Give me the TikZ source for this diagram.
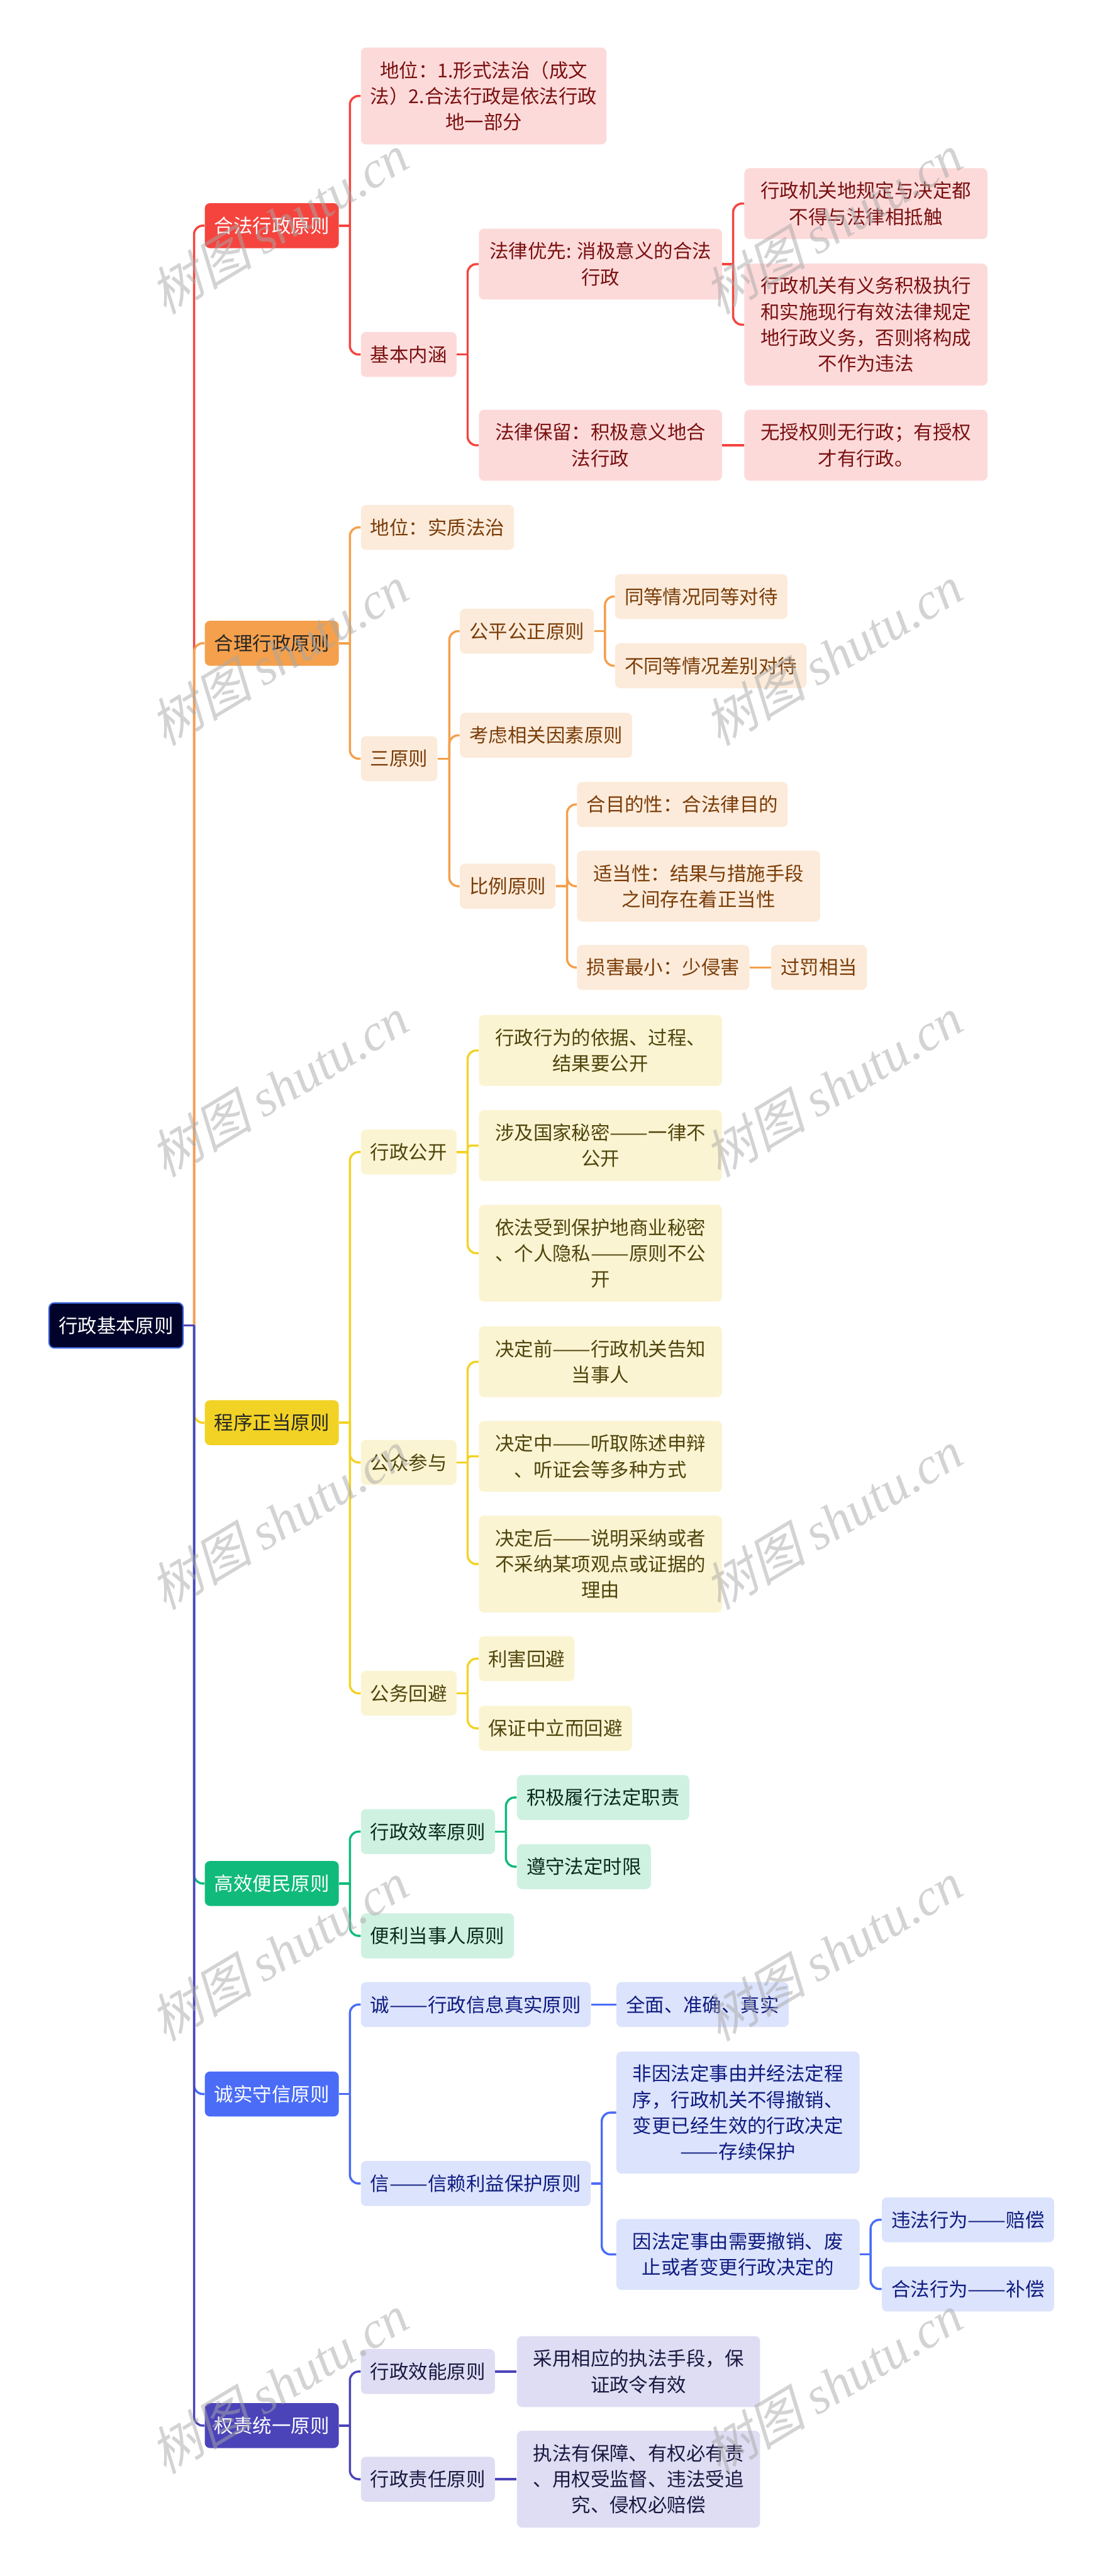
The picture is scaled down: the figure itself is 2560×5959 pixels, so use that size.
\documentclass[tikz,border=0pt]{standalone}
\usepackage{graphicx}
\usepackage{fontspec}
\setmainfont{Noto Sans CJK SC}
\newfontfamily\wmcjk[FakeSlant=0.25]{Noto Sans CJK SC}
\newfontfamily\wmlatin{Liberation Serif}
\newcommand{\ddash}{\resizebox{2em}{\height}{——}}

\definecolor{rootfill}{HTML}{02032A}
\definecolor{rootline}{HTML}{3A62D8}
\definecolor{redmain}{HTML}{F5443E}
\definecolor{redsoft}{HTML}{FDDADA}
\definecolor{redtext}{HTML}{7A1010}
\definecolor{orgmain}{HTML}{F4A04C}
\definecolor{orgsoft}{HTML}{FCEBDA}
\definecolor{orgtext}{HTML}{7A3C08}
\definecolor{yelmain}{HTML}{F2D325}
\definecolor{yelsoft}{HTML}{FBF4D2}
\definecolor{yeltext}{HTML}{4F440C}
\definecolor{grnmain}{HTML}{10BA7B}
\definecolor{grnsoft}{HTML}{CFF1E2}
\definecolor{grntext}{HTML}{0B2B1E}
\definecolor{blumain}{HTML}{4A6CF7}
\definecolor{blusoft}{HTML}{DCE3FC}
\definecolor{blutext}{HTML}{0E1B80}
\definecolor{purmain}{HTML}{4B44B9}
\definecolor{pursoft}{HTML}{DEDDF3}
\definecolor{purtext}{HTML}{1A1840}
\definecolor{wmgray}{HTML}{A8A8A8}

\begin{document}
\begin{tikzpicture}[x=0.01cm, y=-0.01cm,
  box/.style={rounded corners=0.12cm, inner xsep=0.22cm, inner ysep=0pt,
    minimum height=1.04cm, anchor=west, align=center,
    font=\fontsize{12.6pt}{17.1pt}\selectfont},
  wide/.style={minimum width=5.62cm},
  lines2/.style={minimum height=1.64cm},
  lines3/.style={minimum height=2.24cm},
  lines4/.style={minimum height=2.82cm},
  link/.style={line width=0.05cm, rounded corners=0.2cm},
  rootbox/.style={box, fill=rootfill, draw=rootline, line width=0.03cm, text=white},
  redtop/.style={box, fill=redmain, text=white},
  redsub/.style={box, fill=redsoft, text=redtext},
  redlink/.style={link, draw=redmain},
  orgtop/.style={box, fill=orgmain, text=black!85},
  orgsub/.style={box, fill=orgsoft, text=orgtext},
  orglink/.style={link, draw=orgmain},
  yeltop/.style={box, fill=yelmain, text=black!85},
  yelsub/.style={box, fill=yelsoft, text=yeltext},
  yellink/.style={link, draw=yelmain},
  grntop/.style={box, fill=grnmain, text=white},
  grnsub/.style={box, fill=grnsoft, text=grntext},
  grnlink/.style={link, draw=grnmain},
  blutop/.style={box, fill=blumain, text=white},
  blusub/.style={box, fill=blusoft, text=blutext},
  blulink/.style={link, draw=blumain},
  purtop/.style={box, fill=purmain, text=white},
  pursub/.style={box, fill=pursoft, text=purtext},
  purlink/.style={link, draw=purmain},
  wmark/.style={rotate=31, text=wmgray, opacity=0.5}]

  \fill[white] (0,0) rectangle (2560,5959);
  \useasboundingbox (0,0) rectangle (2560,5959);

  % --- root ---
  \node[rootbox] (root) at (112,3066) {行政基本原则};

  % --- 合法行政原则 ---
  \begin{scope}
    \node[redtop] (legal) at (473,522) {合法行政原则};
    \node[redsub, wide, lines3] (legal-status) at (834,222)
      {地位：1.形式法治（成文\\法）2.合法行政是依法行政\\地一部分};
    \node[redsub] (legal-core) at (834,820) {基本内涵};
    \node[redsub, wide, lines2] (legal-prior) at (1107,611) {法律优先: 消极意义的合法\\行政};
    \node[redsub, wide, lines2] (legal-reserve) at (1107,1030) {法律保留：积极意义地合\\法行政};
    \node[redsub, wide, lines2] (legal-prior-a) at (1721,471) {行政机关地规定与决定都\\不得与法律相抵触};
    \node[redsub, wide, lines4] (legal-prior-b) at (1721,751)
      {行政机关有义务积极执行\\和实施现行有效法律规定\\地行政义务，否则将构成\\不作为违法};
    \node[redsub, wide, lines2] (legal-reserve-a) at (1721,1030) {无授权则无行政；有授权\\才有行政。};

    \draw[redlink] ([xshift=0.24cm]root.east) |- (legal.west);
    \draw[redlink] (legal.east) -- ++(25,0);
    \draw[redlink] ([xshift=0.25cm]legal.east) |- (legal-status.west);
    \draw[redlink] ([xshift=0.25cm]legal.east) |- (legal-core.west);
    \draw[redlink] (legal-core.east) -- ++(25,0);
    \draw[redlink] ([xshift=0.25cm]legal-core.east) |- (legal-prior.west);
    \draw[redlink] ([xshift=0.25cm]legal-core.east) |- (legal-reserve.west);
    \draw[redlink] (legal-prior.east) -- ++(25,0);
    \draw[redlink] ([xshift=0.25cm]legal-prior.east) |- (legal-prior-a.west);
    \draw[redlink] ([xshift=0.25cm]legal-prior.east) |- (legal-prior-b.west);
    \draw[redlink] (legal-reserve.east) -- (legal-reserve-a.west);
  \end{scope}

  % --- 合理行政原则 ---
  \begin{scope}
    \node[orgtop] (reason) at (473,1488) {合理行政原则};
    \node[orgsub] (reason-status) at (834,1220) {地位：实质法治};
    \node[orgsub] (reason-three) at (834,1755) {三原则};
    \node[orgsub] (reason-fair) at (1063,1460) {公平公正原则};
    \node[orgsub] (reason-factor) at (1063,1701) {考虑相关因素原则};
    \node[orgsub] (reason-prop) at (1063,2050) {比例原则};
    \node[orgsub] (reason-fair-a) at (1422,1380) {同等情况同等对待};
    \node[orgsub] (reason-fair-b) at (1422,1540) {不同等情况差别对待};
    \node[orgsub] (reason-prop-a) at (1334,1861) {合目的性：合法律目的};
    \node[orgsub, wide, lines2] (reason-prop-b) at (1334,2050) {适当性：结果与措施手段\\之间存在着正当性};
    \node[orgsub] (reason-prop-c) at (1334,2238) {损害最小：少侵害};
    \node[orgsub] (reason-prop-d) at (1783,2238) {过罚相当};

    \draw[orglink] ([xshift=0.24cm]root.east) |- (reason.west);
    \draw[orglink] (reason.east) -- ++(25,0);
    \draw[orglink] ([xshift=0.25cm]reason.east) |- (reason-status.west);
    \draw[orglink] ([xshift=0.25cm]reason.east) |- (reason-three.west);
    \draw[orglink] (reason-three.east) -- ++(27,0);
    \draw[orglink] ([xshift=0.27cm]reason-three.east) |- (reason-fair.west);
    \draw[orglink] ([xshift=0.27cm]reason-three.east) |- (reason-factor.west);
    \draw[orglink] ([xshift=0.27cm]reason-three.east) |- (reason-prop.west);
    \draw[orglink] (reason-fair.east) -- ++(25,0);
    \draw[orglink] ([xshift=0.25cm]reason-fair.east) |- (reason-fair-a.west);
    \draw[orglink] ([xshift=0.25cm]reason-fair.east) |- (reason-fair-b.west);
    \draw[orglink] (reason-prop.east) -- ++(26,0);
    \draw[orglink] ([xshift=0.26cm]reason-prop.east) |- (reason-prop-a.west);
    \draw[orglink] ([xshift=0.26cm]reason-prop.east) |- (reason-prop-b.west);
    \draw[orglink] ([xshift=0.26cm]reason-prop.east) |- (reason-prop-c.west);
    \draw[orglink] (reason-prop-c.east) -- (reason-prop-d.west);
  \end{scope}

  % --- 程序正当原则 ---
  \begin{scope}
    \node[yeltop] (proc) at (473,3291) {程序正当原则};
    \node[yelsub] (proc-open) at (834,2665) {行政公开};
    \node[yelsub] (proc-part) at (834,3383) {公众参与};
    \node[yelsub] (proc-avoid) at (834,3917) {公务回避};
    \node[yelsub, wide, lines2] (proc-open-a) at (1107,2430) {行政行为的依据、过程、\\结果要公开};
    \node[yelsub, wide, lines2] (proc-open-b) at (1107,2650) {涉及国家秘密\ddash 一律不\\公开};
    \node[yelsub, wide, lines3] (proc-open-c) at (1107,2899) {依法受到保护地商业秘密\\、个人隐私\ddash 原则不公\\开};
    \node[yelsub, wide, lines2] (proc-part-a) at (1107,3150) {决定前\ddash 行政机关告知\\当事人};
    \node[yelsub, wide, lines2] (proc-part-b) at (1107,3369) {决定中\ddash 听取陈述申辩\\、听证会等多种方式};
    \node[yelsub, wide, lines3] (proc-part-c) at (1107,3618) {决定后\ddash 说明采纳或者\\不采纳某项观点或证据的\\理由};
    \node[yelsub] (proc-avoid-a) at (1107,3837) {利害回避};
    \node[yelsub] (proc-avoid-b) at (1107,3998) {保证中立而回避};

    \draw[yellink] ([xshift=0.24cm]root.east) |- (proc.west);
    \draw[yellink] (proc.east) -- ++(25,0);
    \draw[yellink] ([xshift=0.25cm]proc.east) |- (proc-open.west);
    \draw[yellink] ([xshift=0.25cm]proc.east) |- (proc-part.west);
    \draw[yellink] ([xshift=0.25cm]proc.east) |- (proc-avoid.west);
    \draw[yellink] (proc-open.east) -- ++(25,0);
    \draw[yellink] ([xshift=0.25cm]proc-open.east) |- (proc-open-a.west);
    \draw[yellink, rounded corners=0.06cm] ([xshift=0.25cm]proc-open.east) |- (proc-open-b.west);
    \draw[yellink] ([xshift=0.25cm]proc-open.east) |- (proc-open-c.west);
    \draw[yellink] (proc-part.east) -- ++(25,0);
    \draw[yellink] ([xshift=0.25cm]proc-part.east) |- (proc-part-a.west);
    \draw[yellink, rounded corners=0.06cm] ([xshift=0.25cm]proc-part.east) |- (proc-part-b.west);
    \draw[yellink] ([xshift=0.25cm]proc-part.east) |- (proc-part-c.west);
    \draw[yellink] (proc-avoid.east) -- ++(25,0);
    \draw[yellink] ([xshift=0.25cm]proc-avoid.east) |- (proc-avoid-a.west);
    \draw[yellink] ([xshift=0.25cm]proc-avoid.east) |- (proc-avoid-b.west);
  \end{scope}

  % --- 高效便民原则 ---
  \begin{scope}
    \node[grntop] (effic) at (473,4357) {高效便民原则};
    \node[grnsub] (effic-rate) at (834,4237) {行政效率原则};
    \node[grnsub] (effic-ease) at (834,4478) {便利当事人原则};
    \node[grnsub] (effic-rate-a) at (1195,4158) {积极履行法定职责};
    \node[grnsub] (effic-rate-b) at (1195,4318) {遵守法定时限};

    \draw[grnlink] ([xshift=0.24cm]root.east) |- (effic.west);
    \draw[grnlink] (effic.east) -- ++(25,0);
    \draw[grnlink] ([xshift=0.25cm]effic.east) |- (effic-rate.west);
    \draw[grnlink] ([xshift=0.25cm]effic.east) |- (effic-ease.west);
    \draw[grnlink] (effic-rate.east) -- ++(25,0);
    \draw[grnlink] ([xshift=0.25cm]effic-rate.east) |- (effic-rate-a.west);
    \draw[grnlink] ([xshift=0.25cm]effic-rate.east) |- (effic-rate-b.west);
  \end{scope}

  % --- 诚实守信原则 ---
  \begin{scope}
    \node[blutop] (honest) at (473,4844) {诚实守信原则};
    \node[blusub] (honest-true) at (834,4637) {诚\ddash 行政信息真实原则};
    \node[blusub] (honest-trust) at (834,5051) {信\ddash 信赖利益保护原则};
    \node[blusub] (honest-true-a) at (1425,4637) {全面、准确、真实};
    \node[blusub, wide, lines4] (honest-trust-a) at (1425,4887)
      {非因法定事由并经法定程\\序，行政机关不得撤销、\\变更已经生效的行政决定\\\ddash 存续保护};
    \node[blusub, wide, lines2] (honest-trust-b) at (1425,5215) {因法定事由需要撤销、废\\止或者变更行政决定的};
    \node[blusub] (honest-trust-b1) at (2039,5135) {违法行为\ddash 赔偿};
    \node[blusub] (honest-trust-b2) at (2039,5295) {合法行为\ddash 补偿};

    \draw[blulink] ([xshift=0.24cm]root.east) |- (honest.west);
    \draw[blulink] (honest.east) -- ++(25,0);
    \draw[blulink] ([xshift=0.25cm]honest.east) |- (honest-true.west);
    \draw[blulink] ([xshift=0.25cm]honest.east) |- (honest-trust.west);
    \draw[blulink] (honest-true.east) -- (honest-true-a.west);
    \draw[blulink] (honest-trust.east) -- ++(25,0);
    \draw[blulink] ([xshift=0.25cm]honest-trust.east) |- (honest-trust-a.west);
    \draw[blulink] ([xshift=0.25cm]honest-trust.east) |- (honest-trust-b.west);
    \draw[blulink] (honest-trust-b.east) -- ++(25,0);
    \draw[blulink] ([xshift=0.25cm]honest-trust-b.east) |- (honest-trust-b1.west);
    \draw[blulink] ([xshift=0.25cm]honest-trust-b.east) |- (honest-trust-b2.west);
  \end{scope}

  % --- 权责统一原则 ---
  \begin{scope}
    \node[purtop] (resp) at (473,5611) {权责统一原则};
    \node[pursub] (resp-eff) at (834,5486) {行政效能原则};
    \node[pursub] (resp-duty) at (834,5735) {行政责任原则};
    \node[pursub, wide, lines2] (resp-eff-a) at (1195,5486) {采用相应的执法手段，保\\证政令有效};
    \node[pursub, wide, lines3] (resp-duty-a) at (1195,5735) {执法有保障、有权必有责\\、用权受监督、违法受追\\究、侵权必赔偿};

    \draw[purlink] ([xshift=0.24cm]root.east) |- (resp.west);
    \draw[purlink] (root.east) -- ++(24,0);
    \draw[purlink] (resp.east) -- ++(25,0);
    \draw[purlink] ([xshift=0.25cm]resp.east) |- (resp-eff.west);
    \draw[purlink] ([xshift=0.25cm]resp.east) |- (resp-duty.west);
    \draw[purlink] (resp-eff.east) -- (resp-eff-a.west);
    \draw[purlink] (resp-duty.east) -- (resp-duty-a.west);
  \end{scope}

  % watermark
  \node[wmark] (wm1) at (645,518) {\wmcjk\fontsize{34pt}{34pt}\selectfont 树图 \wmlatin\itshape shutu.cn};
  \node[wmark] (wm2) at (1926,518) {\wmcjk\fontsize{34pt}{34pt}\selectfont 树图 \wmlatin\itshape shutu.cn};
  \node[wmark] (wm3) at (645,1516) {\wmcjk\fontsize{34pt}{34pt}\selectfont 树图 \wmlatin\itshape shutu.cn};
  \node[wmark] (wm4) at (1926,1516) {\wmcjk\fontsize{34pt}{34pt}\selectfont 树图 \wmlatin\itshape shutu.cn};
  \node[wmark] (wm5) at (645,2514) {\wmcjk\fontsize{34pt}{34pt}\selectfont 树图 \wmlatin\itshape shutu.cn};
  \node[wmark] (wm6) at (1926,2514) {\wmcjk\fontsize{34pt}{34pt}\selectfont 树图 \wmlatin\itshape shutu.cn};
  \node[wmark] (wm7) at (645,3516) {\wmcjk\fontsize{34pt}{34pt}\selectfont 树图 \wmlatin\itshape shutu.cn};
  \node[wmark] (wm8) at (1926,3516) {\wmcjk\fontsize{34pt}{34pt}\selectfont 树图 \wmlatin\itshape shutu.cn};
  \node[wmark] (wm9) at (645,4514) {\wmcjk\fontsize{34pt}{34pt}\selectfont 树图 \wmlatin\itshape shutu.cn};
  \node[wmark] (wm10) at (1926,4514) {\wmcjk\fontsize{34pt}{34pt}\selectfont 树图 \wmlatin\itshape shutu.cn};
  \node[wmark] (wm11) at (645,5515) {\wmcjk\fontsize{34pt}{34pt}\selectfont 树图 \wmlatin\itshape shutu.cn};
  \node[wmark] (wm12) at (1926,5515) {\wmcjk\fontsize{34pt}{34pt}\selectfont 树图 \wmlatin\itshape shutu.cn};
\end{tikzpicture}
\end{document}
